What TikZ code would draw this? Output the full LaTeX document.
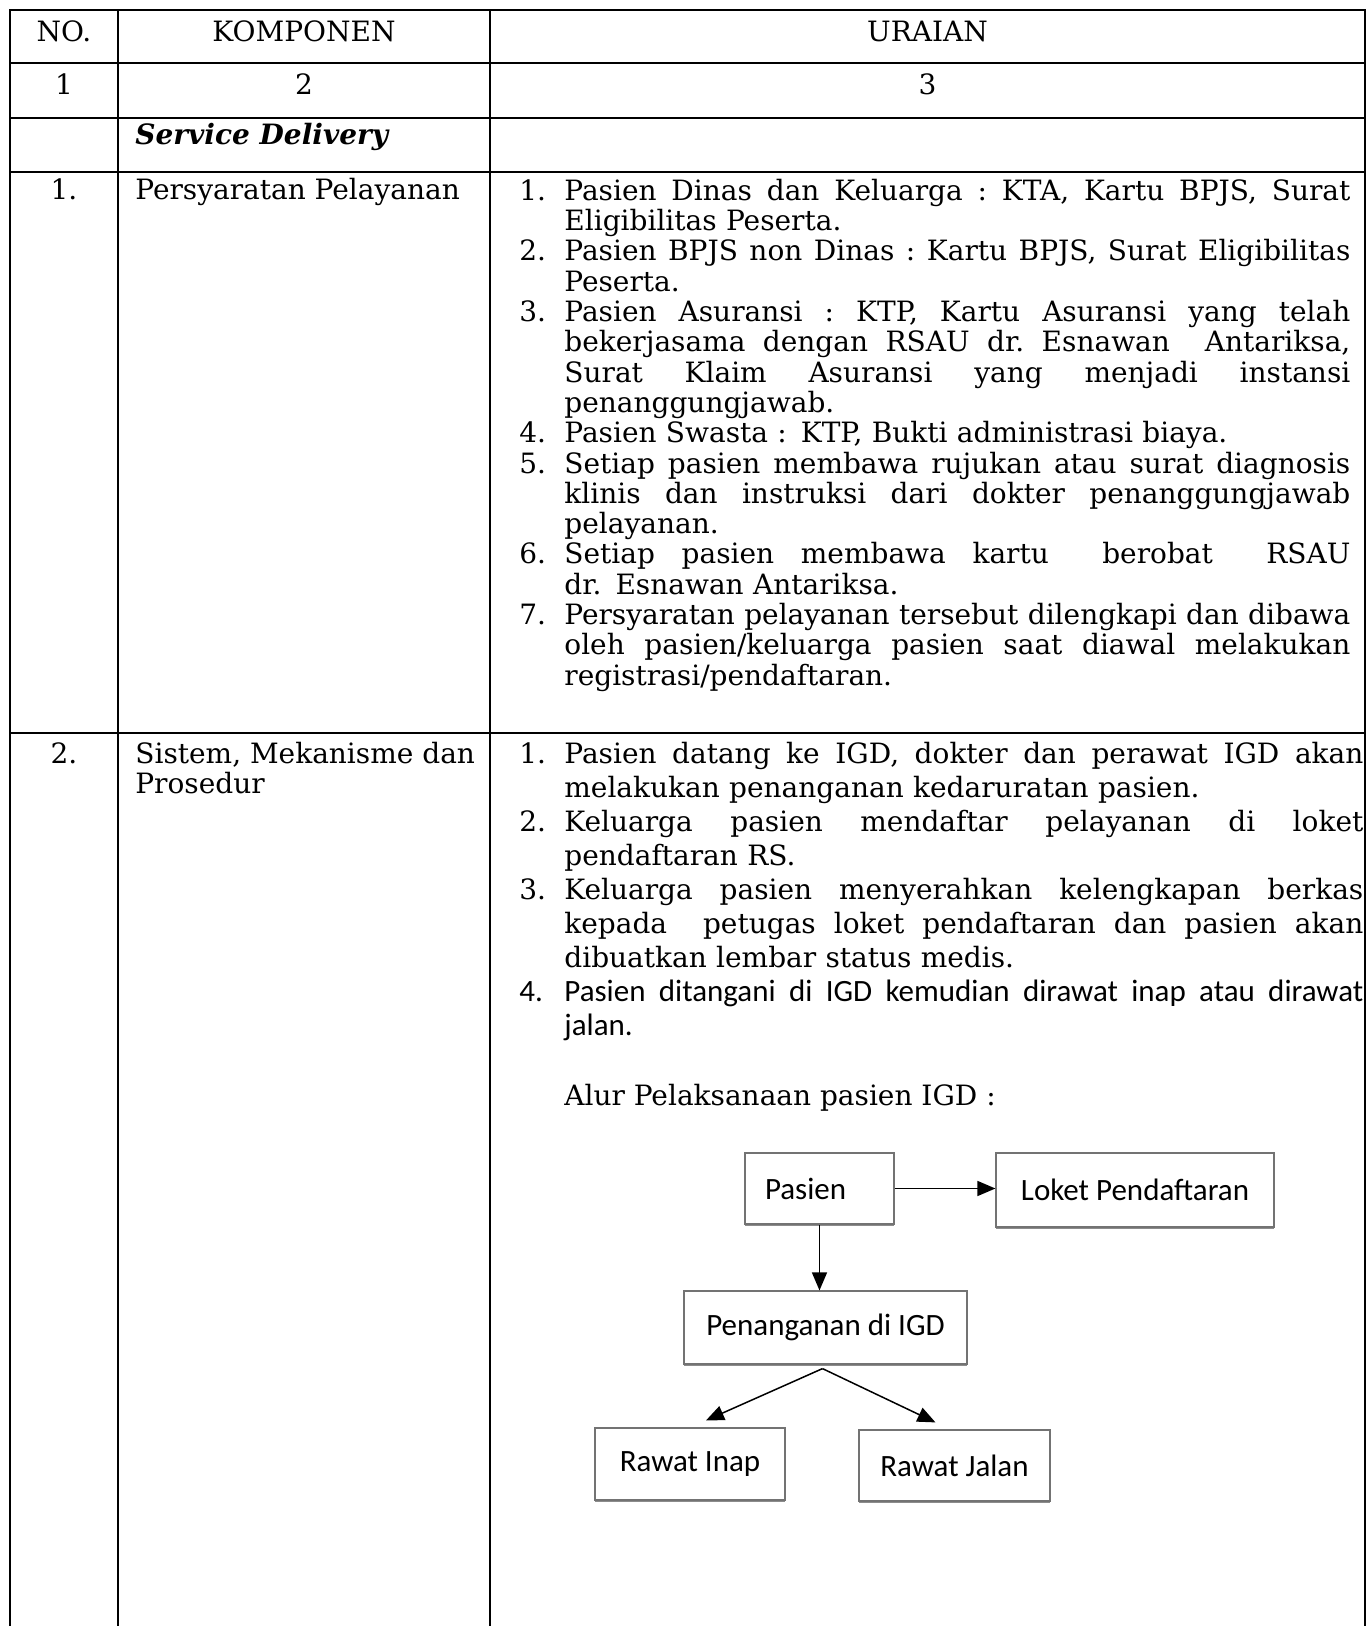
\documentclass[tikz,border=0pt]{standalone}
\usepackage{fontspec}
\setmainfont{DejaVu Serif}
\newfontfamily\calfont{Carlito}
\usepackage{tikz}
\usetikzlibrary{arrows.meta,calc,shadows}

\newlength\numw \setlength\numw{22.5pt}
\def\lw{393pt}
\newcommand\nx[1]{\makebox[\numw][l]{#1}}
\newcommand\jx[1]{\hbox to\lw{\spaceskip=0.3em plus 1fil\relax\xspaceskip=\spaceskip#1}}
\newcommand\lx[1]{#1}
\newcommand\calsz{\calfont\fontsize{15.5}{17}\selectfont}

\begin{document}
\begin{tikzpicture}[x=0.5pt, y=-0.5pt,
    tline/.style={line width=1.15pt, line cap=rect},
    cell/.style={inner sep=0pt, font=\fontsize{14}{15.15}\selectfont},
    lst/.style={cell, align=left, anchor=north west},
    box/.style={draw=black!55, line width=0.6pt, fill=white, inner sep=0pt, font=\calsz,
        drop shadow={shadow xshift=0pt, shadow yshift=-1pt, fill=black!45, opacity=1}},
    flow/.style={-{Triangle[length=9pt, width=7.5pt]}, line width=0.75pt},
]
    \useasboundingbox (0,0) rectangle (1368,1626);

    \draw[tline] (10,10) -- (1365,10);
    \foreach \y in {63,118,172,733} \draw[tline] (10,\y) -- (1365,\y);
    \foreach \x in {10,118,490,1365} \draw[tline] (\x,10) -- (\x,1640);

    \node[cell, anchor=base] (hno) at (64,42) {NO.};
    \node[cell, anchor=base] (hkomp) at (304,42) {KOMPONEN};
    \node[cell, anchor=base] (hurai) at (927.5,42) {URAIAN};
    \node[cell, anchor=base] (col1) at (64,95) {1};
    \node[cell, anchor=base] (col2) at (304,95) {2};
    \node[cell, anchor=base] (col3) at (927.5,95) {3};
    \node[cell, anchor=base west] (service) at (135,145) {\bfseries\itshape Service Delivery};

    \node[cell, anchor=base] (no1) at (64,200) {1.};
    \node[cell, anchor=base west] (komp1) at (135,200) {Persyaratan Pelayanan};
    \node[lst, text width=415.5pt] (urai1) at (519,178) {\setlength\parindent{0pt}\def\lw{393pt}\rule{0pt}{11pt}%
        \nx{1.}\jx{Pasien Dinas dan Keluarga : KTA, Kartu BPJS, Surat}\\
        \nx{}\lx{Eligibilitas Peserta.}\\
        \nx{2.}\jx{Pasien BPJS non Dinas : Kartu BPJS, Surat Eligibilitas}\\
        \nx{}\lx{Peserta.}\\
        \nx{3.}\jx{Pasien Asuransi : KTP, Kartu Asuransi yang telah}\\
        \nx{}\jx{bekerjasama dengan RSAU dr. Esnawan \ Antariksa,}\\
        \nx{}\jx{Surat Klaim Asuransi yang menjadi instansi}\\
        \nx{}\lx{penanggungjawab.}\\
        \nx{4.}\lx{Pasien Swasta : KTP, Bukti administrasi biaya.}\\
        \nx{5.}\jx{Setiap pasien membawa rujukan atau surat diagnosis}\\
        \nx{}\jx{klinis dan instruksi dari dokter penanggungjawab}\\
        \nx{}\lx{pelayanan.}\\
        \nx{6.}\jx{Setiap pasien membawa kartu \ berobat \ RSAU}\\
        \nx{}\lx{dr. Esnawan Antariksa.}\\
        \nx{7.}\jx{Persyaratan pelayanan tersebut dilengkapi dan dibawa}\\
        \nx{}\jx{oleh pasien/keluarga pasien saat diawal melakukan}\\
        \nx{}\lx{registrasi/pendaftaran.}};

    \node[cell, anchor=base] (no2) at (64,763) {2.};
    \node[cell, align=left, anchor=north west, font=\fontsize{14}{15}\selectfont] (komp2) at (135,741)
        {\rule{0pt}{11pt}Sistem, Mekanisme dan\\Prosedur};
    \node[lst, text width=422pt, font=\fontsize{14}{17}\selectfont] (urai2) at (519,741) {\setlength\parindent{0pt}\def\lw{399.5pt}\rule{0pt}{11pt}%
        \nx{1.}\jx{Pasien datang ke IGD, dokter dan perawat IGD akan}\\
        \nx{}\lx{melakukan penanganan kedaruratan pasien.}\\
        \nx{2.}\jx{Keluarga pasien mendaftar pelayanan di loket}\\
        \nx{}\lx{pendaftaran RS.}\\
        \nx{3.}\jx{Keluarga pasien menyerahkan kelengkapan berkas}\\
        \nx{}\jx{kepada \ petugas loket pendaftaran dan pasien akan}\\
        \nx{}\lx{dibuatkan lembar status medis.}\\
        \nx{\calsz 4.}\jx{\calsz Pasien ditangani di IGD kemudian dirawat inap atau dirawat}\\
        \nx{}\lx{\calsz jalan.}};
    \node[cell, anchor=base west] (alur) at (564,1105) {Alur Pelaksanaan pasien IGD :};

    \node[box, minimum height=35.5pt, text width=54.5pt, align=left, inner xsep=10pt] (pasien) at (819.5,1188.5) {Pasien};
    \node[box, minimum width=139pt, minimum height=37pt] (loket) at (1135,1190) {Loket Pendaftaran};
    \node[box, minimum width=141.5pt, minimum height=36.5pt] (igd) at (825.5,1327.5) {Penanganan di IGD};
    \node[box, minimum width=95pt, minimum height=36pt] (inap) at (690,1464) {Rawat Inap};
    \node[box, minimum width=95.5pt, minimum height=35.5pt] (jalan) at (954.5,1465.5) {Rawat Jalan};
    \coordinate (fork) at ($(igd.south)+(-3,4)$);

    \draw[flow] (pasien.east) -- (pasien.east -| loket.west);
    \draw[flow] (pasien.south) -- (pasien.south |- igd.north);
    \draw[flow] (fork) -- ($(inap.north)+(16,-7)$);
    \draw[flow] (fork) -- ($(jalan.north)+(-19,-7)$);
\end{tikzpicture}
\end{document}
